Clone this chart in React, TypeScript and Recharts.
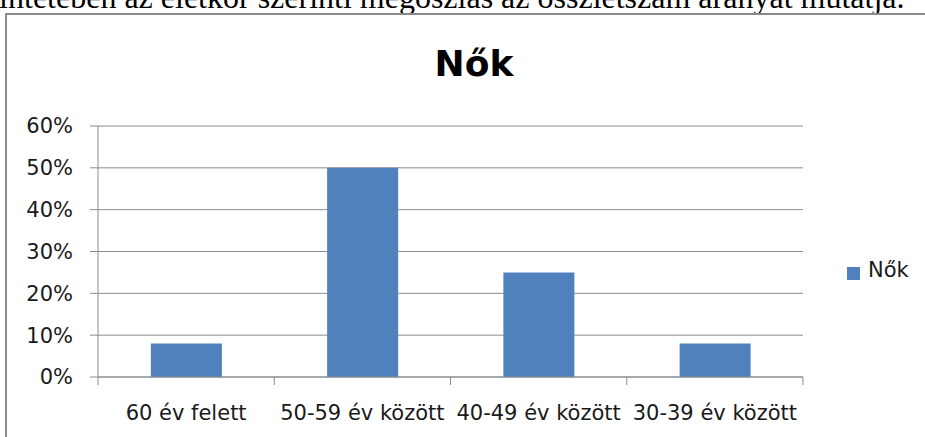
import { BarChart, Bar, XAxis, YAxis, CartesianGrid, Legend } from "recharts";

// chart data
const categories = ["60 év felett", "50-59 év között", "40-49 év között", "30-39 év között"];
const nokValues = [0.08, 0.5, 0.25, 0.08];
const yTicks = [0, 0.1, 0.2, 0.3, 0.4, 0.5, 0.6];

const data = categories.map((name, i) => ({ name, nok: nokValues[i] }));

const CHART_W = 925;
const CHART_H = 437;
const MARGIN = { top: 126, right: 122, left: 28, bottom: 20 };
const Y_AXIS_W = 70;
const TICK = 8;
const AXIS = "#8c8c8c";
const FONT = "'DejaVu Sans', sans-serif";
const BLUE = "#4f81bd";

const plotW = CHART_W - MARGIN.left - MARGIN.right - Y_AXIS_W;
const halfBand = plotW / categories.length / 2;

const CategoryTick = (props: any) => {
  const { x, y, payload, index } = props;
  return (
    <g>
      <line x1={x - halfBand} x2={x - halfBand} y1={y - TICK} y2={y} stroke={AXIS} />
      {index === categories.length - 1 && (
        <line x1={x + halfBand} x2={x + halfBand} y1={y - TICK} y2={y} stroke={AXIS} />
      )}
      <text x={x} y={y + 35} textAnchor="middle" fill="#1a1a1a" fontSize={21} fontFamily={FONT}>
        {payload.value}
      </text>
    </g>
  );
};

export default function App() {
  return (
    <div
      style={{
        position: "absolute",
        left: 0,
        top: 0,
        width: CHART_W,
        height: CHART_H,
        overflow: "hidden",
        background: "#fff",
      }}
    >
      {/* cut-off line of document text above the chart */}
      <div
        style={{
          position: "absolute",
          left: -40,
          top: -19,
          whiteSpace: "nowrap",
          fontFamily: "'Liberation Serif', serif",
          fontSize: 32,
          lineHeight: 1,
          color: "#000",
        }}
      >
        tekintetében az életkor szerinti megoszlás az összlétszám arányát mutatja.
      </div>

      {/* chart frame */}
      <div
        style={{
          position: "absolute",
          left: 5,
          top: 13,
          width: 1000,
          height: 500,
          border: "2px solid #8a8a8a",
        }}
      />

      <div
        style={{
          position: "absolute",
          left: 0,
          top: 42,
          width: 948,
          textAlign: "center",
          fontFamily: FONT,
          fontWeight: "bold",
          fontSize: 36,
          lineHeight: "44px",
          color: "#000",
        }}
      >
        Nők
      </div>

      <div style={{ position: "absolute", left: 0, top: 0 }}>
        <BarChart width={CHART_W} height={CHART_H} data={data} margin={MARGIN} barCategoryGap="30%">
          <CartesianGrid horizontal vertical={false} stroke={AXIS} />
          <XAxis
            dataKey="name"
            height={40}
            stroke={AXIS}
            tickLine={false}
            tickSize={TICK}
            tickMargin={0}
            interval={0}
            tick={<CategoryTick />}
          />
          <YAxis
            width={Y_AXIS_W}
            domain={[0, 0.6]}
            ticks={yTicks}
            stroke={AXIS}
            tickSize={TICK}
            tickMargin={17}
            tick={{ fill: "#1a1a1a", fontSize: 21, fontFamily: FONT }}
            tickFormatter={(v: number) => `${Math.round(v * 100)}%`}
          />
          <Legend
            layout="horizontal"
            verticalAlign="middle"
            align="center"
            iconType="square"
            iconSize={13}
            wrapperStyle={{ left: 847, top: 258, width: "auto", height: "auto" }}
            formatter={(value: string) => (
              <span style={{ color: "#1a1a1a", fontSize: 21, fontFamily: FONT, marginLeft: 4 }}>
                {value}
              </span>
            )}
          />
          <Bar dataKey="nok" name="Nők" fill={BLUE} isAnimationActive={false} />
        </BarChart>
      </div>
    </div>
  );
}
